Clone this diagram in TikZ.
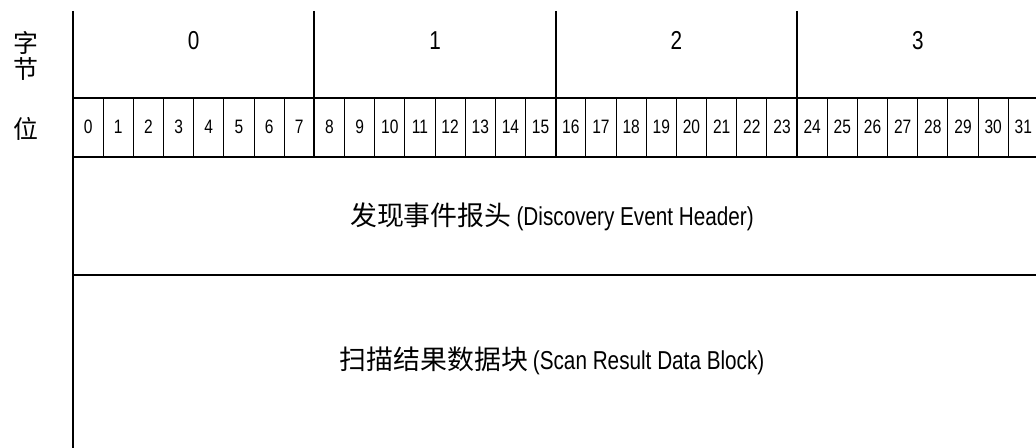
\documentclass[tikz,border=0pt]{standalone}
\usepackage{fontspec}
\setmainfont[FakeStretch=0.8]{Liberation Sans}
\newfontfamily\cjk{Noto Sans CJK SC}
\begin{document}
\begin{tikzpicture}[x=1bp,y=-1bp,
  heavy/.style={line width=2bp},
  light/.style={line width=0.9bp},
  bitnum/.style={font=\fontsize{19.5}{22}\selectfont, inner sep=0pt},
  bytenum/.style={font=\fontsize{26}{30}\selectfont, inner sep=0pt},
  rowlabel/.style={font=\cjk\fontsize{25}{26}\selectfont, inner sep=0pt, align=center},
  fieldtext/.style={font=\fontsize{26}{30}\selectfont, inner sep=0pt, anchor=base}]
\useasboundingbox (0,0) rectangle (1036,448);
\def\cw{30.17}
\def\xo{73}
% row labels
\node[rowlabel] (lbyte) at (26,55.5) {字\\节};
\node[rowlabel] (lbit) at (26,128.5) {位};
% byte numbers
\foreach \j in {0,...,3}
  \node[bytenum] (B\j) at ({\xo+(\j*8+4)*\cw},40.5) {\j};
% bit numbers
\foreach \i in {0,...,31}
  \node[bitnum] (b\i) at ({\xo+(\i+0.5)*\cw},126.8) {\i};
% fields
\node[fieldtext] (hdr) at (552,226) {{\cjk\fontsize{27}{30}\selectfont 发现事件报头}\hspace{5bp}(Discovery Event Header)};
\node[fieldtext] (data) at (552,370) {{\cjk\fontsize{27}{30}\selectfont 扫描结果数据块}\hspace{5bp}(Scan Result Data Block)};
% grid coordinates
\coordinate (tl) at (\xo,11);
\coordinate (bl) at (\xo,448);
% bit and byte separators
\foreach \i in {1,...,31}{
  \pgfmathtruncatemacro{\r}{mod(\i,8)}
  \ifnum\r=0\relax
    \draw[heavy] ({\xo+\i*\cw},11) -- ({\xo+\i*\cw},157);
  \else
    \draw[light] ({\xo+\i*\cw},98) -- ({\xo+\i*\cw},157);
  \fi
}
% main lines
\draw[heavy] (tl) -- (bl);
\draw[heavy] (\xo,98) -- (1036,98);
\draw[heavy] (\xo,157) -- (1036,157);
\draw[heavy] (\xo,275) -- (1036,275);
\end{tikzpicture}
\end{document}
